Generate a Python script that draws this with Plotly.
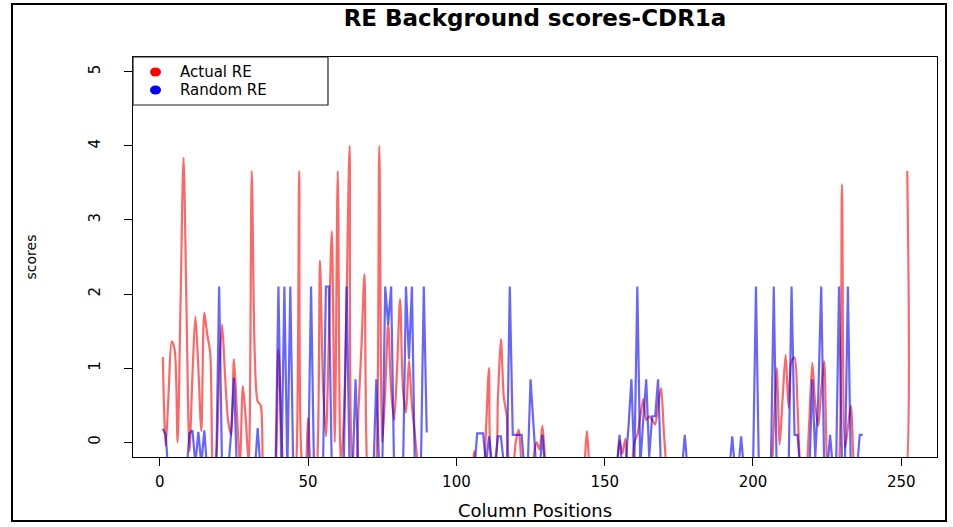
import plotly.graph_objects as go

# Column positions of the CDR1a alignment
positions = list(range(1, 253))

# Actual RE background scores (None = no score at that column)
actual_re = [
    1.15, -0.05, 0.7, 1.36, 1.25, 0.0, 1.9, 3.84, 1.8, -0.12,
    0.9, 1.7, 1.0, 0.15, 1.75, 1.45, 1.2, -0.4, -0.2, 0.9,
    1.59, 0.9, 0.3, 0.1, 1.12, 0.4, -0.3, 0.76, 0.3, -0.3,
    3.66, 1.2, 0.55, 0.5, -0.5, -0.6, -0.6, -0.6, -0.4, 1.25,
    0.15, -0.5, -0.6, -0.6, -0.6, -0.3, 3.66, -0.3, -0.4, 0.33,
    -0.4, -0.5, -0.3, 2.45, 0.8, 0.08, 1.4, 2.85, 0.0, 3.66,
    -0.3, 0.28, 2.0, 4.0, -0.3, -0.4, 0.46, 1.3, 2.27, -0.4,
    -0.6, -0.6, -0.3, 4.0, 0.0, 0.7, 1.6, 0.7, 0.3, 1.0,
    1.93, 0.7, 0.4, 1.1, 0.5, 0.1, -0.3, -0.6, None, None,
    None, None, None, None, None, None, None, None, None, None,
    None, None, None, -0.6, -0.5, -0.12, -0.5, -0.6, -0.5, 0.2,
    1.0, -0.3, -0.3, 0.6, 1.39, 0.6, 0.35, -0.3, -0.3, 0.0,
    0.17, -0.3, -0.5, -0.5, -0.4, -0.2, 0.0, -0.1, 0.22, -0.3,
    -0.6, None, None, None, None, None, None, None, None, None,
    None, -0.6, -0.4, 0.15, -0.4, -0.6, None, None, None, None,
    None, None, -0.6, -0.4, 0.02, -0.15, 0.05, -0.3, -0.3, 0.0,
    0.1, 0.35, 0.58, 0.3, 0.35, 0.3, 0.24, 0.5, 0.73, 0.1,
    -0.4, -0.6, None, None, None, None, None, None, None, None,
    None, None, None, None, None, None, None, None, None, None,
    None, None, None, None, None, None, None, None, None, None,
    None, None, None, None, -0.6, -0.5, 0.2, 1.0, -0.03, 0.6,
    1.18, 0.46, 1.1, 1.14, 0.5, -0.4, -0.6, -0.4, 0.3, 1.07,
    0.5, 0.22, 0.7, 1.09, -0.3, -0.6, -0.6, -0.5, -0.3, 3.48,
    -0.08, 0.2, 0.49, -0.3, -0.6, None, None, None, None, None,
    None, None, None, None, None, None, None, None, None, -0.6,
    -0.6, 3.66,
]

# Random RE background scores
random_re = [
    0.18, 0.1, -0.5, -0.6, -0.6, -0.6, -0.6, -0.6, -0.4, 0.12,
    0.16, -0.3, 0.14, -0.3, 0.16, -0.4, -0.6, -0.6, -0.4, 2.1,
    -0.4, -0.6, -0.4, 0.1, 0.87, -0.4, -0.6, -0.6, -0.6, -0.6,
    -0.6, -0.4, 0.19, -0.4, -0.6, -0.6, -0.6, -0.6, -0.4, 2.1,
    -0.4, 2.1, -0.4, 2.1, -0.4, -0.6, -0.6, -0.6, -0.6, -0.4,
    2.1, -0.4, -0.6, -0.6, -0.4, 2.1, 2.1, -0.4, -0.6, -0.6,
    -0.6, -0.4, 2.1, -0.4, -0.4, 0.85, -0.4, -0.6, -0.6, -0.6,
    -0.6, -0.4, 0.85, -0.4, -0.4, 2.1, 1.59, 2.1, -0.4, -0.6,
    -0.6, -0.4, 2.1, 1.12, 2.1, -0.4, -0.6, -0.4, 2.1, 0.13,
    None, None, None, None, None, None, None, None, None, None,
    None, None, None, None, -0.6, -0.4, 0.12, 0.12, 0.12, -0.3,
    0.08, -0.3, -0.3, 0.08, 0.08, -0.3, -0.4, 2.1, 0.1, 0.1,
    0.1, 0.1, -0.4, -0.4, 0.85, 0.2, -0.4, -0.4, 0.1, -0.4,
    None, None, None, None, None, None, None, None, None, None,
    None, None, None, None, None, None, None, None, None, None,
    None, None, -0.6, -0.4, 0.1, -0.4, -0.3, 0.19, 0.85, -0.3,
    2.1, -0.3, 0.3, 0.85, -0.2, 0.35, 0.35, 0.85, -0.4, -0.6,
    -0.6, -0.6, -0.6, -0.6, -0.6, -0.4, 0.1, -0.4, None, None,
    None, None, None, None, None, None, None, None, None, None,
    -0.6, -0.4, 0.08, -0.4, -0.4, 0.08, -0.4, -0.6, -0.6, -0.4,
    2.1, -0.4, -0.6, -0.6, -0.6, -0.4, 2.1, -0.4, -0.6, -0.6,
    -0.6, -0.4, 2.1, 0.1, 0.1, -0.4, -0.6, -0.6, -0.4, 0.85,
    -0.2, 0.6, 2.1, -0.3, -0.4, 0.1, -0.4, -0.4, 2.1, -0.3,
    -0.3, 2.1, -0.4, -0.4, -0.4, 0.1, 0.1, None, None, None,
    None, None, None, None, None, None, None, None, None, None,
    None, None,
]

x_ticks = [0, 50, 100, 150, 200, 250]
y_ticks = [0, 1, 2, 3, 4, 5]

series_names = ["Actual RE", "Random RE"]
line_colors = ["rgba(255,0,0,0.6)", "rgba(0,0,255,0.6)"]
dot_colors = ["#ff0000", "#0000ff"]

W, H = 953, 527
L, R, T, B = 133, 16, 57, 70
pw, ph = W - L - R, H - T - B
FONT = "DejaVu Sans"


def px_x(p):
    """pixel column -> paper x"""
    return (p - L) / pw


def px_y(p):
    """pixel row -> paper y"""
    return (H - B - p) / ph


fig = go.Figure()
fig.add_trace(go.Scatter(
    x=positions, y=actual_re, mode="lines", name=series_names[0], showlegend=False,
    line=dict(color=line_colors[0], width=2.2, shape="spline", smoothing=0.8),
    hoverinfo="skip",
))
fig.add_trace(go.Scatter(
    x=positions, y=random_re, mode="lines", name=series_names[1], showlegend=False,
    line=dict(color=line_colors[1], width=2.2),
    hoverinfo="skip",
))

axis_common = dict(
    showgrid=False, zeroline=False, showline=True, mirror=True,
    linecolor="black", linewidth=1, ticks="outside", ticklen=8,
    tickwidth=1, tickcolor="black", automargin=False,
    tickfont=dict(family=FONT, size=15, color="black"),
)

# legend box in the top-left corner of the plotting region
shapes = [
    dict(type="rect", xref="paper", yref="paper",
         x0=px_x(133), x1=px_x(328), y0=px_y(105), y1=px_y(57),
         line=dict(color="#222", width=1.2), fillcolor="white", layer="above"),
]
annotations = []
for i, (name, col) in enumerate(zip(series_names, dot_colors)):
    cy = 72 + 18 * i
    shapes.append(dict(
        type="circle", xref="paper", yref="paper",
        x0=px_x(150), x1=px_x(161), y0=px_y(cy + 4.5), y1=px_y(cy - 4.5),
        fillcolor=col, line=dict(color=col, width=0), layer="above",
    ))
    annotations.append(dict(
        text=name, xref="paper", yref="paper", x=px_x(178), y=px_y(cy),
        xanchor="left", yanchor="middle", showarrow=False,
        font=dict(family=FONT, size=15, color="black"),
    ))

# outer frame around the whole figure
shapes.append(dict(
    type="rect", xref="paper", yref="paper",
    x0=px_x(12), x1=px_x(946), y0=px_y(521), y1=px_y(4),
    line=dict(color="black", width=2), layer="above",
))

fig.update_layout(
    width=W, height=H,
    margin=dict(l=L, r=R, t=T, b=B, autoexpand=False),
    paper_bgcolor="white", plot_bgcolor="white",
    showlegend=False,
    title=dict(
        text="<b>RE Background scores-CDR1a</b>",
        x=0.5, xref="paper", xanchor="center",
        y=1 - 18 / H, yref="container", yanchor="middle",
        font=dict(family=FONT, size=23, color="black"),
    ),
    xaxis=dict(
        range=[-9.04, 262.04], tickvals=x_ticks, ticklabelstandoff=3,
        title=dict(text="Column Positions", standoff=14,
                   font=dict(family=FONT, size=18, color="black")),
        **axis_common,
    ),
    yaxis=dict(
        range=[-0.2, 5.2], tickvals=y_ticks, tickangle=-90, ticklabelstandoff=18,
        title=dict(text="scores", standoff=46,
                   font=dict(family=FONT, size=14, color="black")),
        **axis_common,
    ),
    shapes=shapes,
    annotations=annotations,
)

fig.write_html("out.html")
